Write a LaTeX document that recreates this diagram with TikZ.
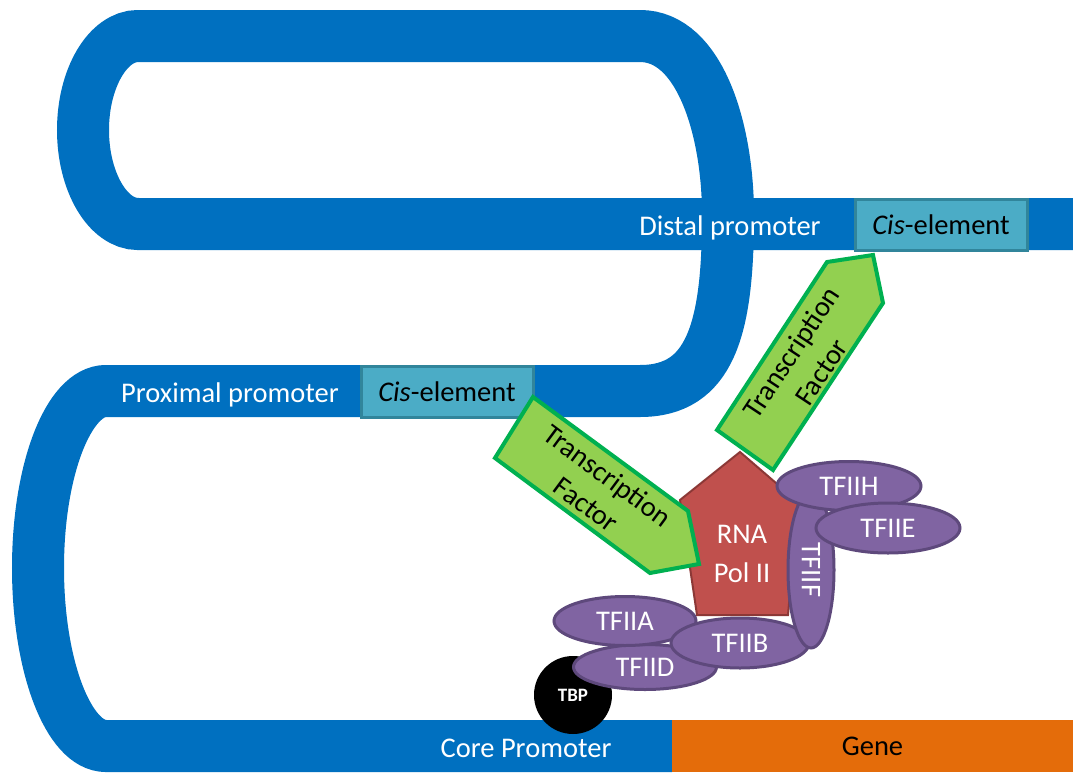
\documentclass[tikz,border=0pt]{standalone}
\usepackage[]{color}
\usepackage{fontspec}
\setmainfont{Carlito}
\usepackage{tikz}
\usetikzlibrary{shapes}

\definecolor{dnablue}{RGB}{0,112,192}
\definecolor{cisfill}{RGB}{75,172,198}
\definecolor{cisline}{RGB}{49,133,155}
\definecolor{tffill}{RGB}{146,208,80}
\definecolor{tfline}{RGB}{0,176,80}
\definecolor{polfill}{RGB}{192,80,77}
\definecolor{polline}{RGB}{140,56,54}
\definecolor{gtffill}{RGB}{128,100,162}
\definecolor{gtfline}{RGB}{94,73,124}
\definecolor{genefill}{RGB}{228,108,10}

\newcommand{\lblfont}{\fontsize{28.6}{36}\selectfont}

\tikzset{
  gtf/.style={ellipse,draw=gtfline,line width=3bp,fill=gtffill,inner sep=0pt,text=white,font=\lblfont},
  cis/.style={draw=cisline,line width=3bp,fill=cisfill,inner sep=0pt,minimum width=172bp,minimum height=51bp,font=\lblfont},
  dnalabel/.style={anchor=base,text=white,font=\lblfont},
  tfarrow/.style={draw=tfline,line width=4bp,fill=tffill,line join=miter},
}

\begin{document}
\begin{tikzpicture}
\useasboundingbox (0bp,0bp) rectangle (1073bp,-774bp);

% the DNA strand
\draw [dnablue,line width=52bp] (1080bp,-224bp) -- (138bp,-224bp)
  .. controls (108bp,-224bp) and (83bp,-182bp) .. (83bp,-130bp)
  .. controls (83bp,-78bp) and (108bp,-36bp) .. (138bp,-36bp) -- (640bp,-36bp)
  .. controls (700bp,-36bp) and (728bp,-130bp) .. (728bp,-215bp)
  .. controls (728bp,-330bp) and (710bp,-391bp) .. (640bp,-391bp) -- (106bp,-391bp)
  .. controls (68.5bp,-391bp) and (38bp,-470bp) .. (38bp,-568bp)
  .. controls (38bp,-666bp) and (68.5bp,-746bp) .. (106bp,-746bp) -- (672bp,-746bp);
\node (gene) at (872.5bp,-746bp)[fill=genefill,minimum width=401bp,minimum height=52bp,inner sep=0pt,font=\lblfont] {Gene};

\node (proxtext) at (230bp,-402bp)[dnalabel] {Proximal promoter};
\node (disttext) at (730bp,-235bp)[dnalabel] {Distal promoter};
\node (coretext) at (526bp,-757bp)[dnalabel] {Core Promoter};
\node (cisprox) at (447bp,-391.5bp)[cis] {\textit{Cis}-element};
\node (cisdist) at (941bp,-224.5bp)[cis] {\textit{Cis}-element};

% RNA polymerase and general factors
\filldraw [fill=polfill,draw=polline,line width=2bp] (740bp,-452bp) -- (798bp,-502bp) -- (788bp,-615bp) -- (697bp,-615bp) -- (680bp,-500bp) -- cycle;
\node (pol) at (742bp,-554bp)[align=center,text=white,font=\fontsize{28.6}{39}\selectfont] {RNA\\Pol II};
\node (TBP) at (573bp,-695bp)[circle,fill=black,minimum size=78bp,inner sep=0pt,text=white,font=\bfseries\fontsize{19}{22}\selectfont] {TBP};
\node (TFIID) at (645bp,-667bp)[gtf,minimum width=143bp,minimum height=45bp] {TFIID};
\node (TFIIA) at (625bp,-621bp)[gtf,minimum width=142bp,minimum height=49bp] {TFIIA};
\node (TFIIB) at (740bp,-643bp)[gtf,minimum width=138bp,minimum height=50bp] {TFIIB};
\node (TFIIF) at (811bp,-570bp)[gtf,rotate=-90,minimum width=156bp,minimum height=46bp] {TFIIF};
\node (TFIIH) at (849bp,-486bp)[gtf,minimum width=144bp,minimum height=49bp] {TFIIH};
\node (TFIIE) at (888bp,-528bp)[gtf,minimum width=144bp,minimum height=50bp] {TFIIE};

% transcription factors
\filldraw [tfarrow] (533bp,-397bp) -- (688bp,-511bp) -- (699bp,-564bp) -- (650bp,-573bp) -- (495bp,-458bp) -- cycle;
\node (tfprox) at (597bp,-490bp)[rotate=-36.5,align=center,font=\lblfont] {Transcription\\Factor};
\filldraw [tfarrow] (717bp,-430bp) -- (827bp,-262bp) -- (873bp,-255bp) -- (883bp,-303bp) -- (773bp,-470bp) -- cycle;
\node (tfdist) at (806bp,-362bp)[rotate=56.5,align=center,font=\lblfont] {Transcription\\Factor};
\end{tikzpicture}
\end{document}
